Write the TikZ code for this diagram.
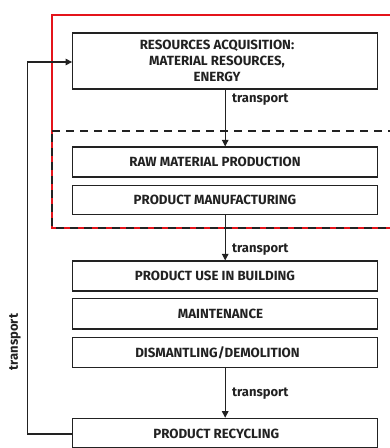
\documentclass[tikz,border=0pt]{standalone}
\usepackage{fontspec}
\setmainfont{Fira Sans}
\usetikzlibrary{arrows.meta}
\definecolor{frame}{HTML}{E4141B}
\definecolor{ink}{HTML}{222222}
\tikzset{
  stagebox/.style={draw=ink, line width=1.2pt, minimum width=305pt, inner sep=0pt},
  stagetext/.style={font=\bfseries\fontsize{13.3}{15.7}\selectfont, text=ink, align=center, inner sep=0pt},
  flow/.style={draw=ink, line width=1.1pt, -{Triangle[width=6.5pt,length=6.5pt]}},
  flowlabel/.style={font=\bfseries\fontsize{13}{14}\selectfont, text=ink, inner sep=0pt, anchor=west}
}
\begin{document}
\begin{tikzpicture}[x=1pt, y=-1pt]
  \useasboundingbox (0,0) rectangle (390,448);
  \fill[white] (0,0) rectangle (390,448);

  % system boundary (red) and production stage (dashed)
  \draw[frame, line width=2pt] (52,15) rectangle (400,228);
  \draw[ink, line width=2pt, dash pattern=on 8pt off 6pt] (52,131) -- (400,131);
  \draw[ink, line width=2pt, dash pattern=on 8pt off 6pt] (400,228) -- (52,228) -- (52,131);

  % life-cycle stages
  \node[stagebox, minimum height=56pt] (acq) at (225.2,61) {};
  \node[stagetext] (acqT) at (217,61) {RESOURCES ACQUISITION:\\MATERIAL RESOURCES,\\ENERGY};

  \node[stagebox, minimum height=30pt] (raw) at (225.2,162) {};
  \node[stagetext] (rawT) at (215,162) {RAW MATERIAL PRODUCTION};

  \node[stagebox, minimum height=29.5pt] (man) at (225.2,200) {};
  \node[stagetext] (manT) at (215,200) {PRODUCT MANUFACTURING};

  \node[stagebox, minimum height=30pt] (use) at (225.2,276) {};
  \node[stagetext] (useT) at (215,276) {PRODUCT USE IN BUILDING};

  \node[stagebox, minimum height=30.5pt] (mnt) at (225.2,313.7) {};
  \node[stagetext] (mntT) at (220.5,313.7) {MAINTENANCE};

  \node[stagebox, minimum height=30pt] (dis) at (225.2,352.7) {};
  \node[stagetext] (disT) at (217.5,352.7) {DISMANTLING/DEMOLITION};

  \node[stagebox, minimum height=29pt] (rec) at (225.2,432.8) {};
  \node[stagetext] (recT) at (216.3,434) {PRODUCT RECYCLING};

  % transport links
  \draw[flow] (acq.south) -- (raw.north);
  \draw[flow] (man.south) -- (use.north);
  \draw[flow] (dis.south) -- (rec.north);
  \node[flowlabel] (t1) at (232,100) {transport};
  \node[flowlabel] (t2) at (232,250) {transport};
  \node[flowlabel] (t3) at (232,394) {transport};

  % recycling loop back to resource acquisition
  \coordinate (loopB) at (27.7,434);
  \coordinate (loopT) at (27.7,62);
  \draw[flow] (rec.west |- 0,434) -- (loopB) -- (loopT) -- (acq.west |- loopT);
  \node[flowlabel, anchor=center, rotate=90] (t4) at (15,342) {transport};
\end{tikzpicture}
\end{document}
